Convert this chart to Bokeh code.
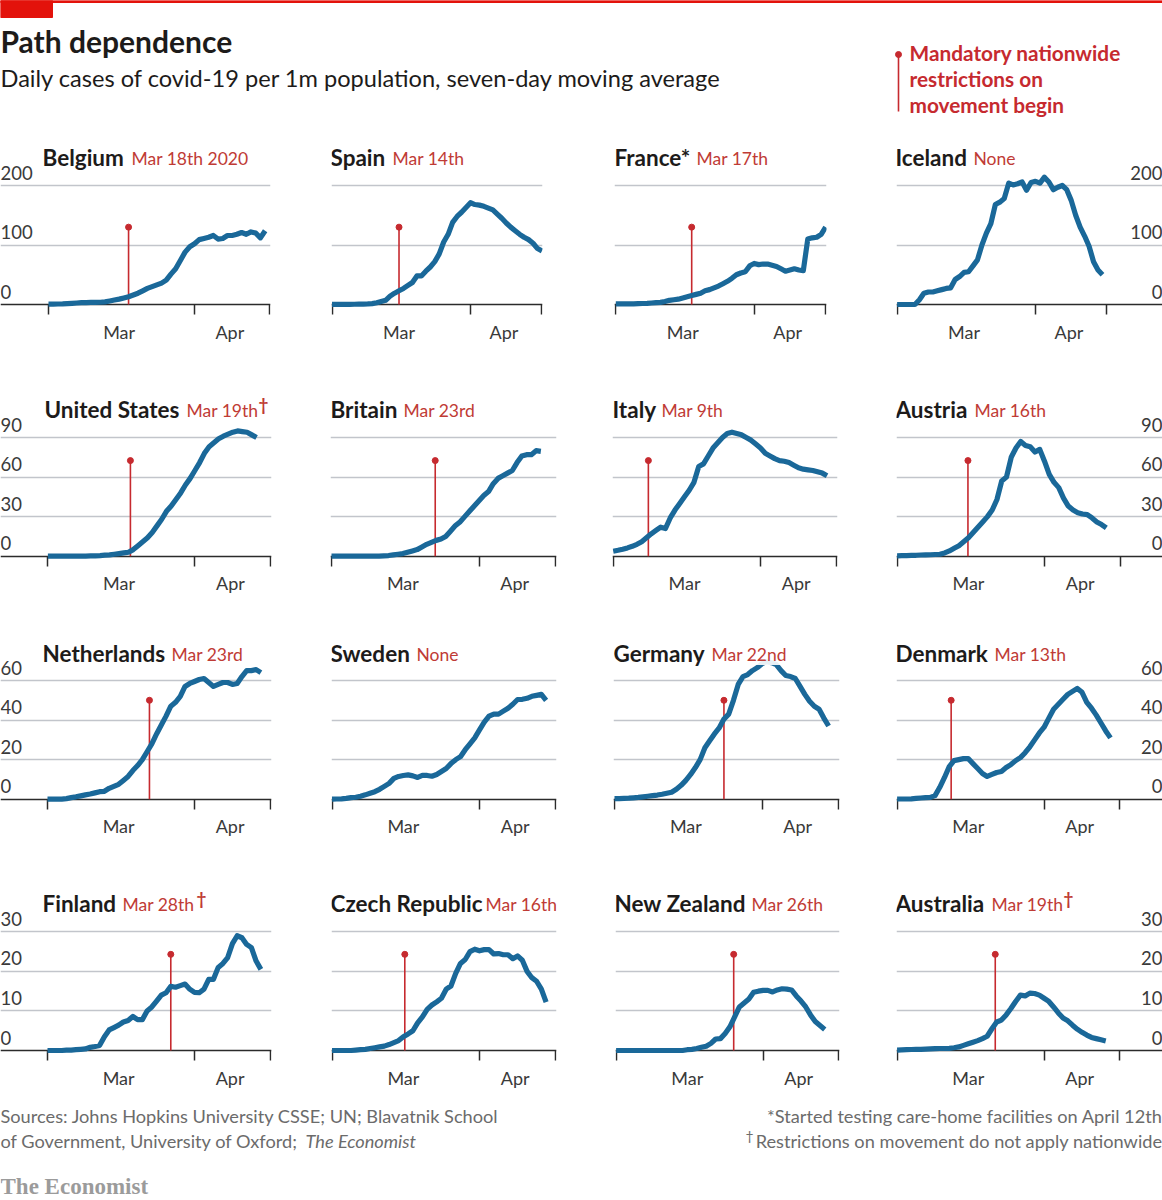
from bokeh.core.properties import value as font_value
from bokeh.embed import file_html
from bokeh.layouts import column, row
from bokeh.models import FixedTicker, Label, Range1d
from bokeh.plotting import figure
from bokeh.resources import INLINE

# daily values per 1m people, index 0 is March 1st
belgium = [0.5, 0.5, 0.8, 1, 1.5, 2, 2.5, 3, 3.2, 3.5, 3.6, 3.8, 4.5, 6, 7.5, 9, 11, 13, 16, 19, 23, 27, 30, 33, 36, 41, 51, 60, 74, 88, 97, 102, 109, 111, 113, 116, 110, 111, 116, 116, 118, 121, 118, 122, 120, 112, 124]
spain = [0.3, 0.3, 0.3, 0.3, 0.3, 0.4, 0.5, 0.7, 1, 1.5, 3, 5, 7, 14, 19, 23, 27, 32, 37, 48, 48, 56, 63, 72, 85, 105, 118, 138, 148, 155, 163, 171, 168, 167, 165, 162, 159, 152, 145, 137, 130, 124, 118, 113, 109, 103, 94, 90]
france = [1, 1, 1, 1, 1.2, 1.5, 1.7, 2, 2.5, 3, 3.5, 5, 7, 8, 9, 11, 13, 15, 17, 19, 23, 25, 28, 31, 35, 39, 44, 50, 53, 55, 65, 69, 67, 68, 68, 66, 64, 60, 56, 58, 60, 58, 57, 110, 112, 113, 118, 130]
iceland = [0, 0, 0, 0, 0, 8, 19, 21, 21, 23, 25, 27, 28, 42, 47, 54, 55, 65, 75, 100, 120, 136, 168, 172, 178, 204, 201, 203, 206, 192, 205, 207, 204, 214, 206, 193, 197, 200, 193, 175, 150, 130, 115, 98, 72, 58, 50]
united_states = [0, 0, 0, 0, 0, 0, 0, 0, 0.1, 0.2, 0.3, 0.5, 0.8, 1, 1.5, 2, 2.5, 3, 5, 8, 11, 14, 18, 23, 28, 34, 38, 43, 48, 54, 59, 65, 71, 78, 83, 86, 89, 91, 92.5, 94, 95, 94.5, 94, 92, 90]
britain = [0, 0, 0, 0, 0, 0, 0, 0, 0, 0, 0, 0.3, 0.5, 1, 1.5, 2, 3, 4, 5, 7, 9, 10.5, 12, 13, 15, 19, 23, 26, 30, 34, 38, 42, 46, 49, 55, 59, 61, 63, 65, 71, 76, 77, 77, 80, 79.5]
italy = [3.8, 4.5, 5.3, 6.3, 7.5, 9, 11, 14, 17, 19.5, 22, 21, 29, 35, 40, 45, 50, 56, 68, 70, 76, 82, 86, 90, 93, 94, 93, 92, 90, 88, 85, 82, 78, 76, 74, 72.5, 72, 71, 69, 67, 66, 65.5, 65, 64, 63, 61]
austria = [0.3, 0.4, 0.5, 0.6, 0.7, 0.9, 1, 1.1, 1.3, 1.5, 2.5, 4, 6, 8, 11, 14, 18, 22, 26, 30, 35, 43, 57, 60, 75, 82, 87, 84, 83, 79, 81, 72, 62, 56, 52, 44, 38, 35, 33, 32, 31.5, 29, 26, 24, 21.5]
netherlands = [0, 0, 0, 0, 0.3, 0.8, 1.2, 1.7, 2.2, 2.6, 3.2, 3.8, 4, 5.5, 6.5, 7.5, 9.5, 11.5, 14.5, 17, 20, 24, 28, 33, 37.5, 42, 47, 49, 52, 57, 58.5, 59.5, 60.5, 61, 59, 57, 58, 59, 59, 58, 58.5, 62, 65, 65, 65.5, 64]
sweden = [0, 0.1, 0.2, 0.4, 0.8, 1, 1.5, 2.2, 3, 3.8, 5, 6.5, 8, 10.5, 11.5, 12, 12.3, 11.8, 11, 12, 12, 11.6, 12.5, 14, 15.5, 18, 20, 21.5, 25, 28, 31, 35, 39, 42, 43, 43, 44.5, 46, 48, 50.4, 50.5, 51, 52, 52.5, 53, 50]
germany = [0.3, 0.3, 0.4, 0.5, 0.7, 0.9, 1.2, 1.5, 1.8, 2.1, 2.5, 3, 3.5, 5, 7, 9.5, 12.5, 16, 20, 26, 29.5, 33, 36, 40.5, 43, 50, 58, 62, 63, 65, 66.5, 68.5, 69.5, 69, 68, 65, 62.5, 62, 61, 57, 53, 49.5, 47, 45.5, 41, 37]
denmark = [0.1, 0.1, 0.1, 0.2, 0.4, 0.6, 0.8, 0.9, 1.8, 6, 11, 16.5, 19.5, 20, 20.5, 20.5, 18, 15.5, 13, 11.5, 12.5, 13.5, 14, 16, 17.5, 19.5, 21, 23.5, 26.5, 30, 33.5, 36.4, 41, 45.5, 48, 50.5, 53, 54.5, 56, 54, 49, 46, 42.5, 38.5, 34.5, 31]
finland = [0, 0, 0, 0, 0.1, 0.1, 0.2, 0.3, 0.4, 0.8, 1, 1.3, 3.5, 5.2, 5.8, 6.4, 7.2, 7.6, 8.6, 7.8, 7.8, 10, 11, 12.5, 14, 14.6, 16.2, 16, 16.4, 16.8, 15.5, 14.7, 14.6, 15.5, 18, 18, 21, 22, 23.5, 27, 29, 28.5, 26.8, 26, 22.6, 20.5]
czech_republic = [0, 0, 0, 0, 0, 0.1, 0.2, 0.3, 0.5, 0.7, 0.9, 1.1, 1.5, 2, 2.5, 3.5, 4.2, 5, 7, 8.5, 10.4, 11.5, 12.3, 13.2, 15.5, 16.3, 19.5, 22, 23, 25, 25.6, 25.2, 25.5, 25.5, 24.4, 24.5, 24.2, 24.2, 23.2, 23.9, 22.8, 20, 18.4, 17.5, 15.5, 12.2]
new_zealand = [0, 0, 0, 0, 0, 0, 0, 0, 0, 0, 0, 0, 0, 0, 0, 0.2, 0.3, 0.5, 0.8, 1.1, 1.8, 2.9, 3, 4.3, 6, 8.5, 11, 12, 13, 14.7, 15, 15.2, 15.2, 14.8, 15.3, 15.6, 15.5, 15.3, 13.8, 12.5, 11, 9, 7.3, 6.3, 5.3]
australia = [0.1, 0.15, 0.2, 0.25, 0.3, 0.3, 0.35, 0.4, 0.45, 0.5, 0.5, 0.55, 0.7, 0.9, 1.3, 1.7, 2.1, 2.5, 3, 3.6, 5.5, 7.2, 7.7, 9, 10.6, 12.4, 14, 13.8, 14.5, 14.4, 14, 13.2, 12.4, 11, 9.5, 8.2, 7.5, 6.4, 5.4, 4.6, 3.9, 3.3, 3, 2.7, 2.4]

series = [belgium, spain, france, iceland,
          united_states, britain, italy, austria,
          netherlands, sweden, germany, denmark,
          finland, czech_republic, new_zealand, australia]
names = ["Belgium", "Spain", "France*", "Iceland",
         "United States", "Britain", "Italy", "Austria",
         "Netherlands", "Sweden", "Germany", "Denmark",
         "Finland", "Czech Republic", "New Zealand", "Australia"]
dates = ["Mar 18th 2020", "Mar 14th", "Mar 17th", "None",
         "Mar 19th", "Mar 23rd", "Mar 9th", "Mar 16th",
         "Mar 23rd", "None", "Mar 22nd", "Mar 13th",
         "Mar 28th", "Mar 16th", "Mar 26th", "Mar 19th"]
daggers = [4, 12, 15]
# day each restriction line sits on, None where there is no line
start_days = [17, 15, 17, None,
              17.4, 21.8, 7.4, 14.9,
              21.5, None, 23, 11.4,
              26, 15.3, 24.8, 20.7]
y_ticks = [[0, 100, 200], [0, 30, 60, 90], [0, 20, 40, 60], [0, 10, 20, 30]]
marker_tops = [130, 72.5, 50, 24.3]
month_labels = {15: "Mar", 38.5: "Apr"}
month_ticks = [0, 31, 47]

# layout, in page pixels
mar_px = [48, 331.5, 615.3, 896.6, 47.4, 331, 612.7, 896.6, 47, 331.5, 614, 896.6, 47, 331.5, 615.6, 896.6]
apr_px = [194, 470, 753.7, 1035, 194.4, 478.5, 760, 1044, 194, 479, 761.5, 1043.6, 194, 479, 762.6, 1043.6]
title_px = [42, 330, 614, 895, 44, 330, 612, 895, 42, 330, 613, 895, 42, 330, 614, 895]
date_px = [131, 392, 696, 973, 186, 403, 661, 974, 171, 416, 711, 994, 122, 485, 751, 991]
dagger_px = {4: 258, 12: 196, 15: 1063}
title_y = [157, 409, 653, 903]
base_y = [304, 555.7, 798.7, 1050]
top_tick_y = [185, 437, 680, 931.3]
cell_y = [140, 385, 635, 880, 1100]
cell_x = [0, 300, 585, 868, 1162]
PAGE_W, PAGE_H = 1162, 1200

FONT = "Lato"
INK = "#1d1b1a"
GREY_TEXT = "#3a3a3a"
RED = "#c62a2f"
DATE_RED = "#bf3b35"
BLUE = "#1a6899"
GRID = "#c2c5cb"
NOTE = "#6b6b6b"
NOTE_SIZE = "18.2px"


def panel(i):
    r, c = divmod(i, 4)
    x0, x1 = cell_x[c], cell_x[c + 1]
    y0, y1 = cell_y[r], cell_y[r + 1]
    per_day = (apr_px[i] - mar_px[i]) / 31
    left = x0 if c == 0 else int(mar_px[i] - 0.5)
    right = x1 if c == 3 else int(mar_px[i] + 47 * per_day + 1.5)
    per_case = (base_y[r] - top_tick_y[r]) / y_ticks[r][-1]

    def day(px):
        return (px - mar_px[i]) / per_day

    def value(py):
        return (base_y[r] - py) / per_case

    p = figure(width=x1 - x0, height=y1 - y0, output_backend="svg", toolbar_location=None,
               x_range=Range1d(day(left), day(right)), y_range=Range1d(value(y1), value(y0)),
               min_border_left=left - x0, min_border_right=x1 - right, min_border_top=0, min_border_bottom=0)
    p.outline_line_color = None
    p.xgrid.visible = False
    p.yaxis.visible = False
    p.ygrid.ticker = FixedTicker(ticks=y_ticks[r][1:])
    p.ygrid.grid_line_color = GRID
    p.ygrid.grid_line_width = 1.5

    ax = p.xaxis[0]
    ax.fixed_location = 0
    ax.level = "underlay"
    ax.ticker = FixedTicker(ticks=list(month_labels), minor_ticks=month_ticks)
    ax.major_label_overrides = month_labels
    ax.major_tick_line_color = None
    ax.major_tick_out = 0
    ax.major_tick_in = 0
    ax.minor_tick_out = 10
    ax.minor_tick_in = 0
    ax.minor_tick_line_color = "#2b2b2b"
    ax.minor_tick_line_width = 1.5
    ax.axis_line_color = "#2b2b2b"
    ax.axis_line_width = 1.5
    ax.major_label_standoff = 6
    ax.major_label_text_font = FONT
    ax.major_label_text_font_size = "18px"
    ax.major_label_text_color = GREY_TEXT

    if c in (0, 3):
        edge = day(left) if c == 0 else day(right)
        p.text(x=[edge] * len(y_ticks[r]), y=y_ticks[r], text=[str(t) for t in y_ticks[r]],
               text_font=font_value(FONT), text_font_size="18.5px", text_color=GREY_TEXT,
               text_align="left" if c == 0 else "right", text_baseline="bottom", y_offset=-6)

    if start_days[i] is not None:
        p.segment(x0=[start_days[i]], y0=[0], x1=[start_days[i]], y1=[marker_tops[r]],
                  line_color=RED, line_width=1.6)
        p.scatter(x=[start_days[i]], y=[marker_tops[r]], size=6, color=RED)

    days = list(range(len(series[i])))
    p.line(days, series[i], line_color=BLUE, line_width=5.2, line_join="round")

    p.add_layout(Label(x=day(title_px[i]), y=value(title_y[r]), text=names[i], text_font=FONT,
                       text_font_style="bold", text_font_size="22.5px", text_color=INK,
                       text_baseline="middle"))
    p.add_layout(Label(x=day(date_px[i]), y=value(title_y[r] + 1), text=dates[i], text_font=FONT,
                       text_font_size="17.5px", text_color=DATE_RED, text_baseline="middle",
                       background_fill_color="white", background_fill_alpha=0.9))
    if i in daggers:
        p.add_layout(Label(x=day(dagger_px[i]), y=value(title_y[r] - 5), text="†", text_font=FONT,
                           text_font_size="17px", text_font_style="bold", text_color=DATE_RED,
                           text_baseline="middle"))
    return p


def text(p, x, y, s, size, color, style="normal", align="left", font=FONT):
    p.text(x=[x], y=[y], text=[s], text_font=font_value(font), text_font_size=size, text_color=color,
           text_font_style=style, text_align=align, text_baseline="middle")


def blank(y0, y1):
    p = figure(width=PAGE_W, height=y1 - y0, output_backend="svg", toolbar_location=None,
               x_range=Range1d(0, PAGE_W), y_range=Range1d(y1, y0), min_border=0)
    p.axis.visible = False
    p.grid.visible = False
    p.outline_line_color = None
    return p


header = blank(0, cell_y[0])
header.quad(left=[0], right=[PAGE_W], top=[0], bottom=[2], color="#e3120b")
header.quad(left=[0], right=[52], top=[0], bottom=[17], color="#e3120b")
text(header, 0, 40, "Path dependence", "30px", INK, "bold")
text(header, 0, 77, "Daily cases of covid-19 per 1m population, seven-day moving average", "23.6px", INK)
header.segment(x0=[898], y0=[54], x1=[898], y1=[111], line_color=RED, line_width=1.6)
header.scatter(x=[898], y=[54], size=6, color=RED)
text(header, 909, 52, "Mandatory nationwide", "20.8px", RED, "bold")
text(header, 909, 78, "restrictions on", "20.8px", RED, "bold")
text(header, 909, 104, "movement begin", "20.8px", RED, "bold")

footer = blank(cell_y[-1], PAGE_H)
text(footer, 0, 1115, "Sources: Johns Hopkins University CSSE; UN; Blavatnik School", NOTE_SIZE, NOTE)
text(footer, 0, 1140, "of Government, University of Oxford;", NOTE_SIZE, NOTE)
text(footer, 305, 1140, "The Economist", NOTE_SIZE, NOTE, "italic")
text(footer, PAGE_W, 1115, "*Started testing care-home facilities on April 12th", NOTE_SIZE, NOTE, align="right")
text(footer, PAGE_W, 1140, "Restrictions on movement do not apply nationwide", NOTE_SIZE, NOTE, align="right")
text(footer, 745, 1135, "†", "14px", NOTE)
text(footer, 0, 1186, "The Economist", "23px", "#9b9b9b", "bold", font="Liberation Serif")

rows = [row(*[panel(r * 4 + c) for c in range(4)], spacing=0) for r in range(4)]
page = column(header, *rows, footer, spacing=0)

open("out.html", "w").write(file_html(page, INLINE))
